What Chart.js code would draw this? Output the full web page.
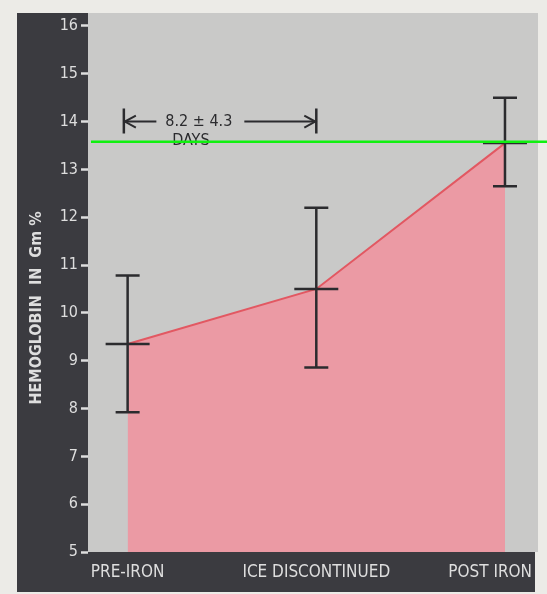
<!DOCTYPE html>
<html>
<head>
<meta charset="utf-8">
<script src="https://cdn.jsdelivr.net/npm/chart.js@4/dist/chart.umd.min.js"></script>
<style>
  html, body { margin: 0; padding: 0; background: #ecebe7; }
  #wrap { width: 547px; height: 594px; }
</style>
</head>
<body>
<div id="wrap"><canvas id="hb-chart"></canvas></div>
<script>
// ======================= data =======================
var categories = ['PRE-IRON', 'ICE DISCONTINUED', 'POST IRON'];
var meanHb = [9.35, 10.5, 13.55];
var lowHb = [7.92, 8.86, 12.65];
var highHb = [10.78, 12.2, 14.5];
var yTicks = [5, 6, 7, 8, 9, 10, 11, 12, 13, 14, 15, 16];
var refLine = 13.58;
var spanText = ['8.2 \u00b1 4.3', 'DAYS'];
var spanFrom = -0.02, spanTo = 1, spanY = 14;
var yTitle = 'HEMOGLOBIN  IN  Gm %';

var FONT = "'DejaVu Sans Condensed', 'Liberation Sans Narrow', sans-serif";
var PAPER = '#ecebe7', DARK = '#3b3b40', GRAY = '#c9c9c8', INK = '#2b2b2e', LIGHT = '#dedede';

// ======================= plugins =======================
var backdrop = {
  id: 'backdrop',
  beforeDraw: function(chart) {
    var c = chart.ctx, a = chart.chartArea;
    c.save();
    c.fillStyle = PAPER;
    c.fillRect(0, 0, chart.width, chart.height);
    c.fillStyle = DARK;
    c.fillRect(17, a.top, a.right - 3 - 17, 592 - a.top);
    c.fillStyle = GRAY;
    c.fillRect(a.left, a.top, a.right - a.left, a.bottom - a.top);
    c.restore();
  }
};

var overlay = {
  id: 'overlay',
  afterDatasetsDraw: function(chart) {
    var c = chart.ctx, a = chart.chartArea;
    var xs = chart.scales.x, ys = chart.scales.y;
    c.save();

    // error bars
    c.strokeStyle = INK;
    c.lineWidth = 2.5;
    c.lineCap = 'butt';
    for (var i = 0; i < meanHb.length; i++) {
      var px = xs.getPixelForValue(i);
      var pl = ys.getPixelForValue(lowHb[i]);
      var ph = ys.getPixelForValue(highHb[i]);
      var pm = ys.getPixelForValue(meanHb[i]);
      c.beginPath();
      c.moveTo(px, ph); c.lineTo(px, pl);
      c.moveTo(px - 12, ph); c.lineTo(px + 12, ph);
      c.moveTo(px - 12, pl); c.lineTo(px + 12, pl);
      c.moveTo(px - 22, pm); c.lineTo(px + 22, pm);
      c.stroke();
    }

    // interval annotation
    var x0 = xs.getPixelForValue(spanFrom), x1 = xs.getPixelForValue(spanTo);
    var y0 = ys.getPixelForValue(spanY);
    c.lineWidth = 2.5;
    c.beginPath();
    c.moveTo(x0, y0 - 13); c.lineTo(x0, y0 + 12);
    c.moveTo(x1, y0 - 13); c.lineTo(x1, y0 + 12);
    c.stroke();
    c.font = '16px ' + FONT;
    c.fillStyle = INK;
    c.textAlign = 'center';
    c.textBaseline = 'middle';
    var tx = x0 + 75;
    var tw = c.measureText(spanText[0]).width;
    c.fillText(spanText[0], tx, y0);
    c.fillText(spanText[1], tx - 8, y0 + 19);
    c.lineWidth = 2;
    c.beginPath();
    c.moveTo(x0 + 1, y0); c.lineTo(tx - tw / 2 - 9, y0);
    c.moveTo(tx + tw / 2 + 12, y0); c.lineTo(x1 - 1, y0);
    c.stroke();
    c.beginPath();
    c.moveTo(x0 + 12, y0 - 6); c.lineTo(x0 + 1, y0); c.lineTo(x0 + 12, y0 + 6);
    c.moveTo(x1 - 12, y0 - 6); c.lineTo(x1 - 1, y0); c.lineTo(x1 - 12, y0 + 6);
    c.stroke();

    // reference line
    var gy = ys.getPixelForValue(refLine);
    c.strokeStyle = '#10f010';
    c.lineWidth = 2.5;
    c.beginPath();
    c.moveTo(a.left + 3, gy); c.lineTo(chart.width, gy);
    c.stroke();

    // category labels
    c.font = '17px ' + FONT;
    c.fillStyle = LIGHT;
    c.textBaseline = 'middle';
    var right = a.right - 3;
    for (var j = 0; j < categories.length; j++) {
      var w = c.measureText(categories[j]).width;
      var cx = xs.getPixelForValue(j);
      cx = Math.max(cx, a.left + w / 2 + 1);
      cx = Math.min(cx, right - w / 2 - 3);
      c.fillText(categories[j], cx, 573);
    }

    // y title
    c.translate(37, 308);
    c.rotate(-Math.PI / 2);
    c.font = 'bold 16px ' + FONT;
    c.fillText(yTitle, 0, 0);
    c.restore();
  }
};

// ======================= chart =======================
var ctx = document.getElementById('hb-chart');
var points = categories.map(function(name, i) { return { x: i, y: meanHb[i] }; });

new Chart(ctx, {
  type: 'line',
  data: {
    datasets: [{
      label: 'Hemoglobin',
      data: points,
      borderColor: '#e25862',
      borderWidth: 2,
      backgroundColor: '#eb9aa4',
      fill: 'start',
      pointRadius: 0,
      tension: 0
    }]
  },
  options: {
    responsive: true,
    maintainAspectRatio: false,
    animation: false,
    layout: { padding: { left: 0, top: 13, right: 9, bottom: 0 } },
    plugins: { legend: { display: false }, tooltip: { enabled: false } },
    scales: {
      x: {
        type: 'linear',
        min: -0.21,
        max: 2.175,
        ticks: { display: false },
        grid: { display: false },
        border: { display: false },
        afterFit: function(scale) { scale.height = 42; }
      },
      y: {
        min: 5,
        max: 16.27,
        afterBuildTicks: function(scale) {
          scale.ticks = yTicks.map(function(v) { return { value: v }; });
        },
        ticks: {
          color: LIGHT,
          font: { family: FONT, size: 16 },
          padding: 3
        },
        grid: {
          drawOnChartArea: false,
          drawTicks: true,
          tickLength: 7,
          tickWidth: 2.5,
          tickColor: LIGHT
        },
        border: { display: false },
        afterFit: function(scale) { scale.width = 88; }
      }
    }
  },
  plugins: [backdrop, overlay]
});
</script>
</body>
</html>
